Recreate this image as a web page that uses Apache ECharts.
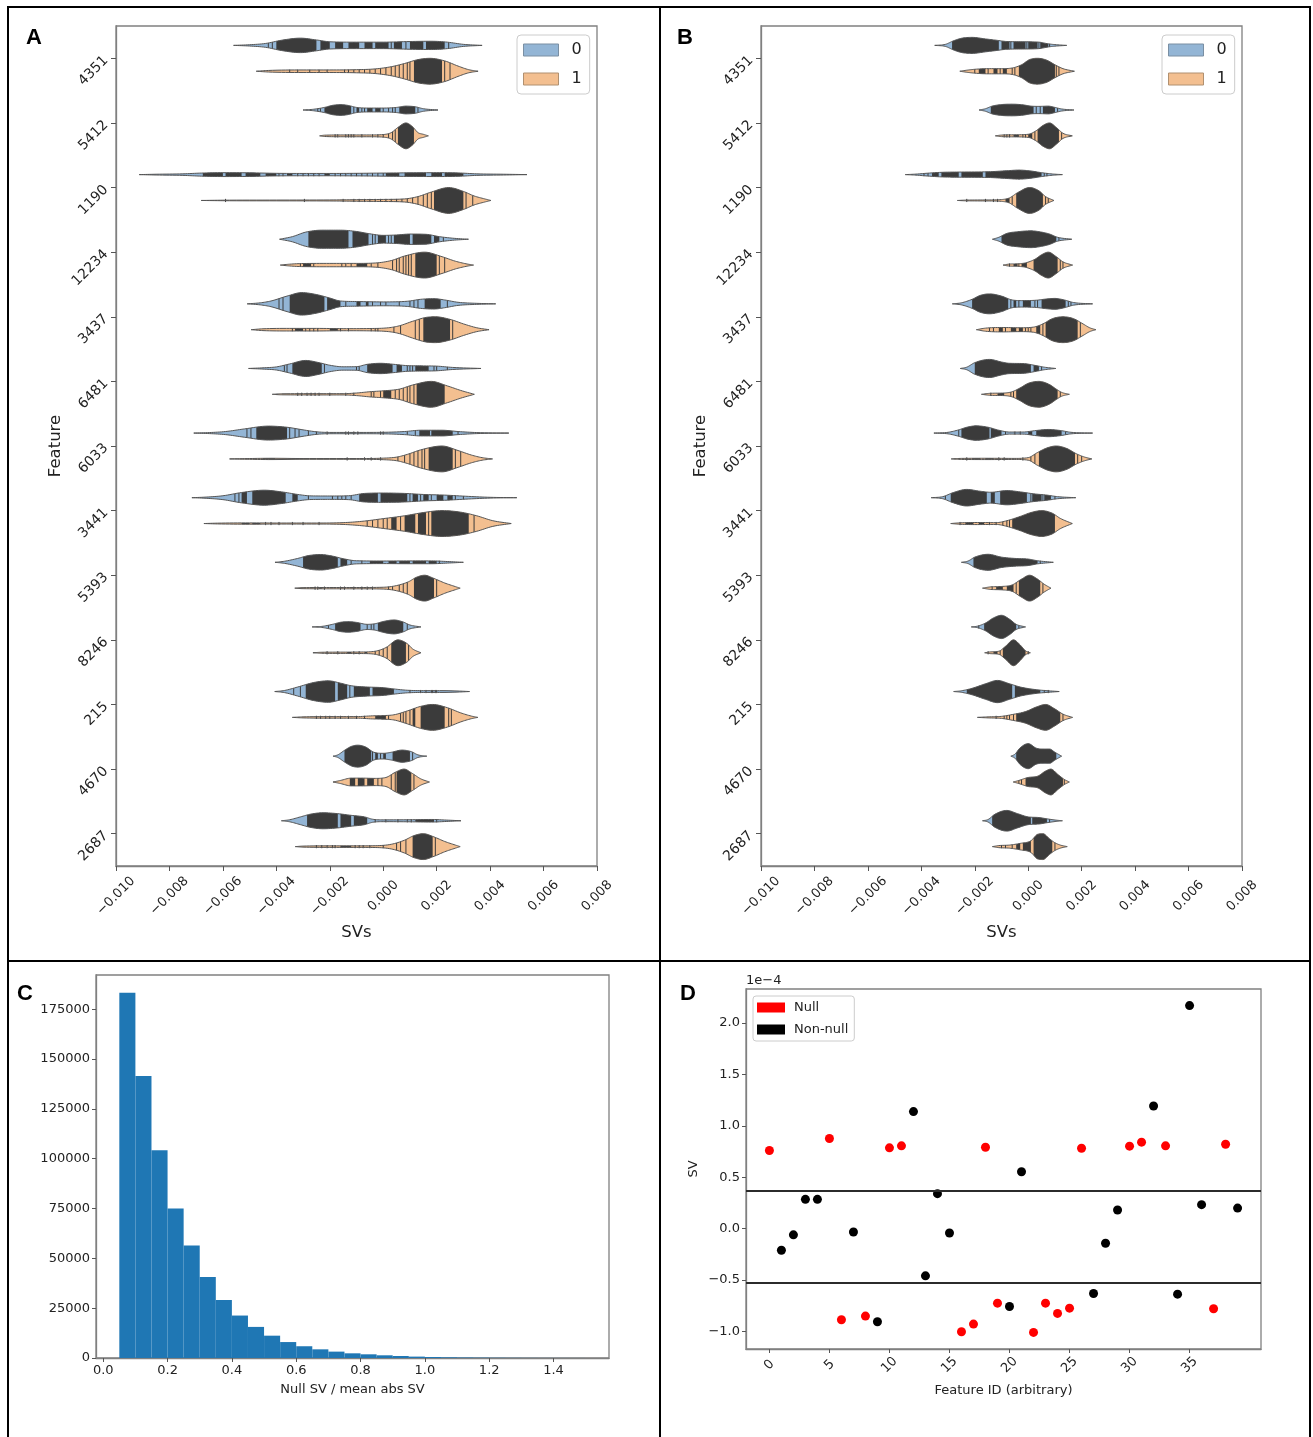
<!DOCTYPE html>
<html><head><meta charset="utf-8">
<script src="https://cdn.jsdelivr.net/npm/echarts@6/dist/echarts.min.js"></script>
<style>html,body{margin:0;padding:0;background:#fff}#c{width:1313px;height:1437px}</style>
</head><body><div id="c"></div>
<script>
// ---------- Panels A/B: split violins (SV values in units of 1e-3; widths relative to widest violin) ----------
const features = ['4351','5412','1190','12234','3437','6481','6033','3441','5393','8246','215','4670','2687'];
const xTicksAB = [-0.010,-0.008,-0.006,-0.004,-0.002,0.000,0.002,0.004,0.006,0.008];
const hueNames = ['0','1'];

const profA0 = [
 [[-5.6,0],[-5.0,0.05],[-4.4,0.15],[-3.8,0.4],[-3.1,0.56],[-2.5,0.42],[-2.0,0.28],[-1.0,0.25],[0,0.25],[1.0,0.3],[1.8,0.32],[2.4,0.25],[3.0,0.08],[3.7,0]],
 [[-3.0,0],[-2.6,0.06],[-2.2,0.2],[-1.9,0.36],[-1.6,0.42],[-1.3,0.35],[-1.0,0.2],[-0.5,0.15],[0,0.15],[0.5,0.2],[0.85,0.3],[1.2,0.25],[1.5,0.1],[2.05,0]],
 [[-9.13,0],[-8.5,0.03],[-7.5,0.06],[-6.8,0.12],[-6,0.15],[-5,0.14],[-4,0.1],[-3,0.09],[-2,0.09],[-1,0.1],[0,0.12],[1,0.14],[2,0.15],[2.8,0.13],[3.5,0.06],[4.5,0.03],[5.38,0]],
 [[-3.88,0],[-3.4,0.2],[-2.9,0.55],[-2.3,0.7],[-1.6,0.7],[-1.0,0.6],[-0.5,0.42],[0,0.3],[0.5,0.33],[1.0,0.4],[1.6,0.38],[2.1,0.2],[2.6,0.08],[3.19,0]],
 [[-5.09,0],[-4.6,0.08],[-4.2,0.22],[-3.6,0.6],[-3.05,0.87],[-2.5,0.72],[-2.0,0.45],[-1.6,0.22],[-1.0,0.18],[0,0.15],[0.9,0.2],[1.4,0.35],[1.9,0.4],[2.3,0.3],[2.8,0.12],[3.5,0.04],[4.21,0]],
 [[-5.04,0],[-4.5,0.05],[-4.0,0.12],[-3.5,0.35],[-2.9,0.62],[-2.4,0.45],[-2.0,0.25],[-1.5,0.13],[-1.0,0.14],[-0.6,0.32],[-0.1,0.4],[0.4,0.32],[0.9,0.22],[1.5,0.2],[2.0,0.18],[2.6,0.08],[3.66,0]],
 [[-7.09,0],[-6.5,0.04],[-5.9,0.12],[-5.2,0.32],[-4.3,0.54],[-3.6,0.45],[-3.0,0.25],[-2.5,0.1],[-2.0,0.05],[-1,0.05],[0,0.06],[0.8,0.12],[1.4,0.22],[2.2,0.22],[2.8,0.12],[3.5,0.04],[4.7,0]],
 [[-7.16,0],[-6.6,0.05],[-6.0,0.15],[-5.3,0.4],[-4.45,0.58],[-3.8,0.45],[-3.2,0.25],[-2.7,0.14],[-2.0,0.13],[-1.3,0.15],[-0.7,0.33],[0,0.36],[0.8,0.33],[1.5,0.25],[2.3,0.2],[3.2,0.1],[4,0.03],[5.0,0]],
 [[-4.05,0],[-3.7,0.08],[-3.2,0.3],[-2.8,0.52],[-2.35,0.6],[-1.9,0.48],[-1.5,0.28],[-1.0,0.12],[0,0.1],[1,0.11],[1.8,0.11],[2.4,0.06],[3.0,0]],
 [[-2.66,0],[-2.3,0.04],[-1.9,0.2],[-1.6,0.36],[-1.3,0.41],[-1.0,0.35],[-0.6,0.2],[-0.3,0.25],[0.0,0.42],[0.4,0.54],[0.75,0.38],[1.0,0.15],[1.41,0]],
 [[-4.06,0],[-3.7,0.08],[-3.2,0.35],[-2.6,0.7],[-2.05,0.83],[-1.6,0.65],[-1.2,0.45],[-0.6,0.35],[0.0,0.3],[0.4,0.2],[0.9,0.1],[1.5,0.07],[2.2,0.07],[2.8,0.04],[3.23,0]],
 [[-1.88,0],[-1.7,0.1],[-1.45,0.45],[-1.2,0.75],[-0.95,0.85],[-0.65,0.7],[-0.35,0.3],[0.0,0.22],[0.3,0.3],[0.7,0.47],[1.05,0.35],[1.3,0.1],[1.63,0]],
 [[-3.81,0],[-3.5,0.08],[-3.1,0.3],[-2.7,0.52],[-2.25,0.62],[-1.7,0.55],[-1.2,0.42],[-0.7,0.3],[-0.4,0.12],[0,0.07],[1,0.08],[1.8,0.1],[2.3,0.06],[2.91,0]]
];
const darkA0 = [
 [[-4.0,-2.5],[-2.35,-2.0],[-1.8,-1.5],[-1.3,-0.9],[-0.7,-0.4],[-0.3,0.2],[0.4,0.7],[1.0,1.5],[1.6,2.3]],
 [[-2.2,-1.2],[-1.0,-0.9],[-0.6,-0.4],[-0.3,-0.1],[0.6,1.2]],
 [[-6.75,-6.0],[-5.9,-5.3],[-5.15,-4.6],[-4.4,-4.0],[-3.6,-3.4],[-2.2,-2.0],[0.1,0.6],[0.8,1.6],[1.8,2.2],[2.3,3.0]],
 [[-2.8,-1.3],[-1.15,-0.55],[-0.2,0.1],[0.4,1.0],[1.1,1.8],[1.9,2.1]],
 [[-3.5,-2.2],[-2.1,-1.6],[-1.0,-0.85],[-0.65,-0.55],[1.55,2.15]],
 [[-3.4,-2.3],[-0.6,0.35],[0.5,0.7],[1.2,1.7]],
 [[-4.75,-3.6],[1.35,1.75],[1.8,2.6]],
 [[-5.3,-5.1],[-4.9,-3.65],[-3.4,-3.2],[-0.9,-0.2],[-0.1,0.9],[1.1,1.3],[1.5,1.7],[2.0,2.25],[2.4,2.6]],
 [[-3.0,-1.7],[-1.6,-1.35],[-0.5,0.0],[0.2,0.5],[0.6,1.0],[1.1,1.6],[1.7,2.0]],
 [[-1.8,-0.85],[-0.2,0.75]],
 [[-2.9,-1.8],[-1.7,-1.35],[-1.1,-0.5],[-0.4,0.4]],
 [[-1.45,-0.45],[-0.3,-0.2],[0.0,0.1],[0.35,1.0]],
 [[-2.85,-1.7],[-1.6,-1.2],[-1.1,-0.6],[1.2,1.9]]
];
const stickA0 = [
 [-4.3,-4.15,-2.2,-1.65,-1.1,0.3,0.85,2.45],
 [-2.45,-2.35,-1.1,-0.8,-0.7,0.0,0.2,0.35,0.45,1.3],
 [-3.9,-3.75,-3.2,-3.0,-2.8,-2.6,-2.4,-1.8,-1.6,-1.4,-1.2,-1.0,-0.8,-0.6,-0.4,-0.2,0.0],
 [-0.4,-0.3,0.2,0.3,2.25],
 [-3.9,-3.75,-1.4,-0.4,-0.1,0.1,0.6,1.0,1.15,1.3,2.4],
 [-3.7,-3.6,-2.2,-1.0,-0.9,0.9,1.0,1.1,1.9,2.0,2.4],
 [-5.1,-4.95,-3.5,-3.3,-3.15,-2.8,-2.5,-2.1,-1.4,-1.3,-1.1,-0.95,-0.1,0.0,0.9,1.2,2.8],
 [-5.55,-5.4,-2.8,-1.9,-1.7,-1.55,-1.4,-1.2,1.0,1.4,1.8,2.7,3.0],
 [-1.2,-0.8,2.1],
 [-2.05,-0.6,-0.45,-0.35,0.9],
 [-3.35,-3.1,-1.25,1.0,1.4,1.6,1.8,1.85,1.95,2.0],
 [-0.4,-0.1,1.1],
 [-0.3,0.1,0.55,0.9,1.05,2.0]
];

const profA1 = [
 [[-4.75,0],[-4.3,0.06],[-3,0.1],[-2,0.1],[-1,0.12],[-0.3,0.18],[0.3,0.35],[0.8,0.6],[1.3,0.9],[1.75,1.0],[2.3,0.8],[2.8,0.4],[3.2,0.12],[3.55,0]],
 [[-2.38,0],[-2.2,0.05],[-1.5,0.07],[-0.5,0.07],[0,0.1],[0.3,0.25],[0.55,0.65],[0.85,1.0],[1.1,0.7],[1.3,0.25],[1.5,0.12],[1.69,0]],
 [[-6.81,0],[-6,0.02],[-4,0.03],[-2,0.04],[-1,0.06],[0,0.08],[0.8,0.12],[1.3,0.3],[1.8,0.65],[2.45,1.0],[3.0,0.7],[3.4,0.35],[3.8,0.12],[4.03,0]],
 [[-3.85,0],[-3.5,0.07],[-3,0.12],[-2,0.13],[-1,0.13],[-0.3,0.16],[0.3,0.35],[0.8,0.7],[1.55,1.0],[2.2,0.65],[2.7,0.3],[3.1,0.1],[3.38,0]],
 [[-4.94,0],[-4.5,0.07],[-3.5,0.1],[-2.5,0.1],[-1.5,0.08],[-0.5,0.09],[0.2,0.15],[0.6,0.3],[1.1,0.65],[1.6,0.95],[1.95,1.0],[2.5,0.8],[3.0,0.45],[3.5,0.15],[3.96,0]],
 [[-4.15,0],[-3.8,0.04],[-2.5,0.05],[-1.5,0.05],[-1.0,0.1],[-0.5,0.2],[0,0.27],[0.6,0.4],[1.1,0.72],[1.8,1.0],[2.4,0.65],[2.9,0.3],[3.41,0]],
 [[-5.75,0],[-5,0.03],[-4.2,0.05],[-3,0.03],[-1,0.03],[0,0.06],[0.5,0.14],[0.9,0.35],[1.4,0.7],[2.2,1.0],[2.8,0.65],[3.3,0.3],[3.7,0.1],[4.09,0]],
 [[-6.71,0],[-6.2,0.03],[-5,0.05],[-4,0.04],[-2.5,0.04],[-1.5,0.07],[-0.8,0.17],[0,0.38],[0.8,0.6],[1.5,0.85],[2.2,1.0],[2.9,0.88],[3.5,0.6],[4.1,0.22],[4.79,0]],
 [[-3.31,0],[-3.0,0.04],[-2,0.05],[-1,0.05],[0,0.07],[0.5,0.2],[0.95,0.5],[1.25,0.85],[1.55,1.0],[1.9,0.75],[2.3,0.4],[2.7,0.12],[2.88,0]],
 [[-2.63,0],[-2.3,0.04],[-1.5,0.05],[-0.8,0.06],[-0.3,0.12],[0.1,0.4],[0.55,1.0],[0.9,0.7],[1.1,0.3],[1.41,0]],
 [[-3.4,0],[-3.0,0.04],[-2.0,0.06],[-1,0.06],[-0.4,0.12],[0.0,0.14],[0.4,0.2],[0.9,0.5],[1.4,0.85],[1.85,1.0],[2.4,0.75],[2.9,0.35],[3.3,0.1],[3.54,0]],
 [[-1.88,0],[-1.6,0.12],[-1.2,0.3],[-0.8,0.3],[-0.3,0.28],[0.1,0.35],[0.45,0.75],[0.78,1.0],[1.1,0.65],[1.4,0.25],[1.73,0]],
 [[-3.29,0],[-3.0,0.04],[-2.0,0.06],[-1,0.06],[-0.3,0.07],[0.3,0.18],[0.8,0.5],[1.15,0.85],[1.5,1.0],[1.9,0.75],[2.3,0.4],[2.7,0.12],[2.88,0]]
];
const darkA1 = [
 [[1.15,2.2]],
 [[0.55,1.15]],
 [[1.9,3.0]],
 [[-3.0,-2.7],[-1.0,-0.6],[1.2,2.0]],
 [[-3.3,-3.0],[-2.0,-1.7],[1.5,2.5]],
 [[0,0.3],[1.25,2.3]],
 [[-4.5,-4.05],[1.7,2.6]],
 [[-5.3,-5.0],[-4.9,-4.6],[0.3,0.5],[0.8,1.2],[1.3,1.6],[1.8,3.2]],
 [[-2.4,-2.3],[1.15,1.9]],
 [[-1.35,-1.2],[-0.7,-0.6],[0.3,0.85]],
 [[-0.3,0.1],[1.1,1.2],[1.4,2.3]],
 [[-1.25,-1.05],[-0.95,-0.7],[-0.6,-0.35],[0.5,1.05]],
 [[-1.6,-1.2],[1.1,1.85]]
];
const stickA1 = [
 [-3.5,-3.2,-2.75,-2.4,-2.1,-1.45,-1.3,-1.1,-0.9,-0.7,-0.5,-0.3,-0.1,0.1,0.3,0.45,0.6,0.75,0.9,1.0,2.3,2.5],
 [-1.8,-1.7,-1.4,-1.3,-1.2,-1.1,-0.8,-0.4,-0.2,0,0.2,0.35,0.45],
 [-5.9,-2.95,-1.5,-1.1,-0.9,-0.7,-0.5,-0.3,-0.1,0.1,0.3,0.5,0.7,0.9,1.1,1.3,1.5,1.65,1.8,3.1,3.35],
 [-3.1,-2.6,-1.55,-1.4,-1.2,-0.45,-0.2,0.35,0.5,0.6,0.75,0.85,0.95,1.05,2.1,2.3],
 [-3.4,-2.9,-2.75,-2.6,-2.45,-1.6,-1.3,-0.45,-0.3,-0.2,0.4,0.65,1.2,1.35,2.6],
 [-3.2,-3.05,-2.85,-2.7,-2.55,-2.4,-2.0,-1.4,-1.1,-0.45,-0.35,-0.1,0.45,0.6,0.75,0.9,1.0,1.15],
 [-1.35,-0.7,-0.45,-0.1,0.55,0.8,1.0,1.15,1.3,1.45,1.55,2.7,2.9],
 [-4.4,-4.2,-3.9,-3.4,-3.0,-2.4,-0.6,-0.4,-0.2,0.0,0.15,0.65,1.7,3.4],
 [-2.55,-2.45,-2.2,-1.6,-1.45,-1.1,-0.8,-0.6,-0.4,0.2,0.35,0.6,0.75,0.9,2.0],
 [-2.1,-1.7,-1.1,-0.9,-0.3,-0.15,0.0,0.15,0.95],
 [-2.5,-2.35,-2.15,-2.0,-1.8,-1.6,-1.3,-1.0,-0.7,0.2,0.65,0.75,0.85,1.0,2.45,2.55],
 [-0.2,-0.05,0.3,0.45,1.15],
 [-2.5,-2.3,-2.1,-1.9,-1.8,-1.05,-0.9,-0.75,-0.5,0.0,0.5,0.65,0.85,1.95]
];

const profB0 = [
 [[-3.5,0],[-3.1,0.08],[-2.8,0.35],[-2.5,0.55],[-2.1,0.62],[-1.6,0.5],[-1.2,0.4],[-0.8,0.3],[-0.2,0.28],[0.4,0.25],[0.75,0.12],[1.0,0.06],[1.44,0]],
 [[-1.84,0],[-1.6,0.1],[-1.35,0.3],[-1.0,0.42],[-0.6,0.45],[-0.2,0.4],[0.1,0.3],[0.4,0.28],[0.75,0.3],[1.0,0.2],[1.25,0.08],[1.71,0]],
 [[-4.6,0],[-4.2,0.04],[-3.7,0.12],[-3.2,0.18],[-2.5,0.2],[-1.5,0.22],[-0.8,0.3],[-0.35,0.35],[0.1,0.28],[0.5,0.15],[0.9,0.05],[1.28,0]],
 [[-1.34,0],[-1.1,0.15],[-0.8,0.45],[-0.4,0.58],[0.1,0.65],[0.5,0.55],[0.8,0.4],[1.1,0.15],[1.63,0]],
 [[-2.84,0],[-2.5,0.08],[-2.1,0.35],[-1.8,0.65],[-1.45,0.77],[-1.0,0.6],[-0.6,0.3],[-0.2,0.25],[0.3,0.28],[0.7,0.38],[1.0,0.42],[1.35,0.3],[1.7,0.1],[2.41,0]],
 [[-2.54,0],[-2.3,0.1],[-2.0,0.45],[-1.45,0.7],[-1.0,0.5],[-0.7,0.4],[-0.2,0.38],[0.3,0.22],[0.6,0.1],[1.03,0]],
 [[-3.53,0],[-3.0,0.06],[-2.6,0.25],[-2.3,0.45],[-1.95,0.56],[-1.5,0.45],[-1.1,0.22],[-0.7,0.08],[-0.2,0.08],[0.3,0.2],[0.75,0.28],[1.2,0.2],[1.6,0.06],[2.41,0]],
 [[-3.63,0],[-3.2,0.08],[-2.8,0.4],[-2.3,0.64],[-1.8,0.5],[-1.4,0.42],[-0.8,0.55],[-0.3,0.45],[0.2,0.3],[0.7,0.2],[1.1,0.08],[1.78,0]],
 [[-2.5,0],[-2.25,0.1],[-2.0,0.4],[-1.5,0.62],[-1.0,0.4],[-0.5,0.3],[0.0,0.25],[0.35,0.12],[0.94,0]],
 [[-2.13,0],[-1.9,0.06],[-1.6,0.3],[-1.3,0.7],[-1.0,0.9],[-0.7,0.6],[-0.45,0.2],[-0.1,0]],
 [[-2.79,0],[-2.5,0.06],[-2.1,0.25],[-1.6,0.6],[-1.15,0.86],[-0.7,0.6],[-0.3,0.35],[0.1,0.2],[0.5,0.1],[1.16,0]],
 [[-0.65,0],[-0.5,0.15],[-0.3,0.65],[0.0,0.97],[0.3,0.62],[0.55,0.55],[0.8,0.55],[1.0,0.3],[1.25,0]],
 [[-1.71,0],[-1.5,0.1],[-1.25,0.5],[-0.8,0.8],[-0.4,0.55],[0.0,0.3],[0.4,0.25],[0.7,0.15],[1.0,0.06],[1.28,0]]
];
const darkB0 = [
 [[-2.85,-1.1],[-1.0,-0.7],[-0.55,-0.1],[0.0,0.35],[0.45,0.75]],
 [[-1.4,0.2],[0.55,1.0]],
 [[-3.6,-3.35],[-3.25,-2.6],[-2.5,-1.7],[-1.6,0.5]],
 [[-1.0,1.05]],
 [[-2.1,-0.75],[-0.55,-0.45],[-0.2,0.1],[0.5,1.4]],
 [[-2.0,0.1],[0.2,0.4]],
 [[-2.5,-1.45],[-1.4,-1.0],[0.0,0.15],[0.3,1.25]],
 [[-2.9,-1.55],[-1.4,-1.25],[-1.05,-0.05],[0.15,0.5],[0.6,0.85]],
 [[-2.05,0.35]],
 [[-1.65,-0.45]],
 [[-2.3,-0.6],[-0.5,0.45]],
 [[-0.45,1.05]],
 [[-1.35,0.1],[0.15,0.7]]
];
const stickB0 = [
 [-0.65,-0.05,0.4,0.8],
 [0.3,0.45,1.1],
 [-3.9,-3.75,0.6,0.7],
 [1.15],
 [-0.65,-0.35,0.25,0.35,1.5,1.6],
 [0.5],
 [-2.6,-0.85,-0.5,-0.3,1.4],
 [-3.1,-1.6,0.1,0.55,1.0],
 [0.45],
 [-1.85,-0.35],
 [0.6,0.75],
 [],
 [0.8]
];

const profB1 = [
 [[-2.56,0],[-2.3,0.08],[-2.0,0.15],[-1.5,0.2],[-1.0,0.2],[-0.6,0.25],[-0.25,0.5],[0.05,0.9],[0.35,1.0],[0.7,0.85],[1.0,0.5],[1.3,0.2],[1.73,0]],
 [[-1.23,0],[-1.0,0.06],[-0.5,0.08],[0,0.12],[0.3,0.4],[0.55,0.8],[0.8,1.0],[1.05,0.65],[1.3,0.2],[1.65,0]],
 [[-2.65,0],[-2.3,0.03],[-1.5,0.04],[-1.0,0.07],[-0.7,0.2],[-0.4,0.6],[0.05,1.0],[0.4,0.75],[0.65,0.3],[0.96,0]],
 [[-0.94,0],[-0.7,0.08],[-0.4,0.1],[-0.1,0.17],[0.25,0.45],[0.5,0.8],[0.75,1.0],[1.05,0.65],[1.3,0.25],[1.66,0]],
 [[-1.94,0],[-1.6,0.12],[-1.0,0.17],[-0.3,0.15],[0.2,0.2],[0.55,0.45],[0.9,0.85],[1.3,1.0],[1.7,0.85],[2.05,0.45],[2.3,0.15],[2.53,0]],
 [[-1.75,0],[-1.4,0.08],[-0.9,0.1],[-0.6,0.2],[-0.3,0.5],[0.0,0.85],[0.4,1.0],[0.8,0.75],[1.05,0.4],[1.25,0.15],[1.54,0]],
 [[-2.88,0],[-2.5,0.04],[-1.5,0.05],[-0.5,0.04],[0.0,0.1],[0.35,0.5],[0.7,0.85],[1.05,1.0],[1.45,0.8],[1.8,0.4],[2.1,0.15],[2.38,0]],
 [[-2.9,0],[-2.6,0.05],[-2.0,0.08],[-1.2,0.07],[-0.8,0.22],[-0.3,0.55],[0.1,0.85],[0.5,1.0],[0.9,0.8],[1.2,0.4],[1.65,0]],
 [[-1.71,0],[-1.4,0.1],[-1.0,0.13],[-0.6,0.25],[-0.25,0.7],[0.05,1.0],[0.35,0.7],[0.6,0.3],[0.85,0]],
 [[-1.63,0],[-1.4,0.07],[-1.1,0.12],[-0.85,0.5],[-0.55,1.0],[-0.3,0.6],[-0.1,0.15],[0.08,0]],
 [[-1.9,0],[-1.5,0.04],[-1.0,0.08],[-0.6,0.22],[-0.1,0.45],[0.3,0.8],[0.65,1.0],[1.0,0.65],[1.3,0.25],[1.66,0]],
 [[-0.56,0],[-0.35,0.12],[0.0,0.35],[0.35,0.45],[0.65,0.85],[0.85,1.0],[1.1,0.6],[1.35,0.2],[1.54,0]],
 [[-1.34,0],[-1.1,0.08],[-0.7,0.12],[-0.3,0.25],[0.1,0.45],[0.35,0.95],[0.55,1.0],[0.8,0.6],[1.0,0.3],[1.2,0.12],[1.46,0]]
];
const darkB1 = [
 [[-1.85,-1.6],[-1.3,-1.15],[-0.95,-0.8],[-0.35,1.0]],
 [[-0.55,-0.35],[0.0,0.15],[0.35,1.15]],
 [[-0.85,-0.7],[-0.45,0.55]],
 [[-0.55,-0.4],[-0.25,-0.05],[0.2,1.1]],
 [[-1.1,-0.95],[-0.65,-0.45],[-0.35,-0.2],[0.3,0.45],[0.65,1.85]],
 [[-1.15,-0.9],[-0.45,1.1]],
 [[-2.1,-1.8],[-1.6,-1.3],[0.4,1.75]],
 [[-2.35,-2.05],[-1.85,-1.65],[-0.6,1.0]],
 [[-1.2,-0.95],[-0.8,-0.55],[-0.35,0.45]],
 [[-1.3,-1.15],[-0.95,-0.1]],
 [[-0.45,1.2]],
 [[-0.1,1.3]],
 [[-0.45,-0.3],[-0.2,0.1],[0.2,0.9]]
];
const stickB1 = [
 [-2.0,-1.5,-1.05,-0.6,-0.5,1.05,1.15],
 [-0.9,-0.8,-0.7,-0.2,-0.1,0.25,1.25],
 [-2.3,-1.6,-1.3,-1.15,-0.6,0.65,0.75],
 [-0.7,-0.35,1.2,1.3],
 [-1.45,-1.3,-0.85,-0.1,0.0,0.1,0.55,1.95],
 [-1.4,-0.65,-0.55,1.2],
 [-2.3,-1.1,-0.9,-0.2,0.1,0.25,1.85,2.0],
 [-2.55,-1.45,-1.2,-0.95,-0.8,-0.7],
 [-1.35,-0.45,0.55],
 [-1.5,-1.05,0.0],
 [-1.2,-0.9,-0.8,-0.7,-0.55,1.3],
 [-0.35,-0.25,1.35],
 [-1.0,-0.85,-0.6,-0.35,1.0]
];

// ---------- Panel C: histogram ----------
const cBinStarts = [0.05,0.10,0.15,0.20,0.25,0.30,0.35,0.40,0.45,0.50,0.55,0.60,0.65,0.70,0.75,0.80,0.85,0.90,0.95,1.00,1.05,1.10,1.15,1.20,1.25,1.30,1.35,1.40,1.45];
const cBinWidth = 0.05;
const cCounts = [183300,141500,104200,75000,56400,40700,29100,21300,15600,11200,8000,5900,4350,3200,2350,1850,1350,1000,700,500,350,250,180,130,90,60,40,30,20];
const cXTicks = [0.0,0.2,0.4,0.6,0.8,1.0,1.2,1.4];
const cYTicks = [0,25000,50000,75000,100000,125000,150000,175000];

// ---------- Panel D: scatter (SV in units of 1e-4) ----------
const dIds = [0,1,2,3,4,5,6,7,8,9,10,11,12,13,14,15,16,17,18,19,20,21,22,23,24,25,26,27,28,29,30,31,32,33,34,35,36,37,38,39];
const dValues = [0.76,-0.21,-0.06,0.285,0.285,0.876,-0.886,-0.032,-0.85,-0.905,0.786,0.805,1.138,-0.459,0.34,-0.042,-1.002,-0.928,0.792,-0.724,-0.757,0.553,-1.009,-0.724,-0.824,-0.773,0.782,-0.63,-0.142,0.181,0.802,0.841,1.193,0.805,-0.637,2.169,0.233,-0.779,0.821,0.2];
const dIsNull = [1,0,0,0,0,1,1,0,1,0,1,1,0,0,0,0,1,1,1,1,0,0,1,1,1,1,1,0,0,0,1,1,0,1,0,0,0,1,1,0];
const dThresholds = [0.369,-0.533];
const dXTicks = [0,5,10,15,20,25,30,35];
const dYTicks = [-1.0,-0.5,0.0,0.5,1.0,1.5,2.0];

// ---------- styling ----------
const BLUE = '#93b5d5', ORANGE = '#f3bf90', DARK = '#3b3b3b', EDGE = '#555555';
const SPINE = '#808080', TICK = '#555555', TXT = '#222222', FONT = 'DejaVu Sans';
const minus = s => s.replace('-', '\u2212');

// smooth drawing of a read profile (monotone cubic Hermite, no overshoot) — rendering only
function smoothProfile(p) {
  const n = p.length, d = [], t = [];
  for (let i = 0; i < n - 1; i++) d.push((p[i+1][1] - p[i][1]) / (p[i+1][0] - p[i][0]));
  for (let i = 0; i < n; i++) {
    if (i === 0) t.push(d[0]);
    else if (i === n - 1) t.push(d[n-2]);
    else if (d[i-1] * d[i] <= 0) t.push(0);
    else t.push((d[i-1] + d[i]) / 2);
  }
  for (let i = 0; i < n - 1; i++) {
    if (d[i] === 0) { t[i] = 0; t[i+1] = 0; continue; }
    const a = t[i] / d[i], b = t[i+1] / d[i], s = a * a + b * b;
    if (s > 9) { const tau = 3 / Math.sqrt(s); t[i] = tau * a * d[i]; t[i+1] = tau * b * d[i]; }
  }
  const out = [];
  const N = 8;
  for (let i = 0; i < n - 1; i++) {
    const x0 = p[i][0], x1 = p[i+1][0], h = x1 - x0;
    for (let j = 0; j < N; j++) {
      const s = j / N, s2 = s * s, s3 = s2 * s;
      const y = (2*s3 - 3*s2 + 1) * p[i][1] + (s3 - 2*s2 + s) * h * t[i] + (-2*s3 + 3*s2) * p[i+1][1] + (s3 - s2) * h * t[i+1];
      out.push([x0 + s * h, Math.max(0, y)]);
    }
  }
  out.push(p[n-1].slice());
  return out;
}

function hAt(p, m) {
  if (m <= p[0][0]) return p[0][1];
  for (let i = 1; i < p.length; i++) {
    if (m <= p[i][0]) {
      const t = (m - p[i-1][0]) / (p[i][0] - p[i-1][0]);
      return p[i-1][1] + t * (p[i][1] - p[i-1][1]);
    }
  }
  return p[p.length-1][1];
}

function makeViolin(prof, dark, sticks, side, fill) {
  const smooth = prof.map(smoothProfile);
  return function (params, api) {
    const i = api.value(1);
    const p = smooth[i];
    const c = api.coord([0, i]);
    const band = api.size([0, 1])[1];
    const k = 0.2 * band;
    const yc = c[1] + side * k;
    const X = m => api.coord([m * 1e-3, i])[0];
    const shape = pts => {
      const up = pts.map(q => [X(q[0]), yc - q[1] * k]);
      const lo = pts.slice().reverse().map(q => [X(q[0]), yc + q[1] * k]);
      return up.concat(lo);
    };
    const children = [];
    children.push({ type: 'polygon', shape: { points: shape(p) }, style: { fill: fill } });
    dark[i].forEach(([a, b]) => {
      const pts = [[a, hAt(p, a)]];
      p.forEach(q => { if (q[0] > a && q[0] < b) pts.push(q); });
      pts.push([b, hAt(p, b)]);
      children.push({ type: 'polygon', shape: { points: shape(pts) }, style: { fill: DARK } });
    });
    sticks[i].forEach(m => {
      const h = Math.max(hAt(p, m) * k, 1.6);
      const x = X(m);
      children.push({ type: 'line', shape: { x1: x, y1: yc - h, x2: x, y2: yc + h }, style: { stroke: DARK, lineWidth: 1 } });
    });
    children.push({ type: 'polygon', shape: { points: shape(p) }, style: { fill: 'none', stroke: EDGE, lineWidth: 1 } });
    return { type: 'group', children: children };
  };
}

const grids = [
  { left: 116, top: 26, width: 481, height: 840 },
  { left: 761, top: 26, width: 481, height: 840 },
  { left: 96, top: 975, width: 513, height: 383 },
  { left: 746, top: 989, width: 515, height: 360 }
].map(g => Object.assign({ show: true, borderColor: SPINE, borderWidth: 1.3, backgroundColor: 'transparent' }, g));

const axisLineStyle = { show: true, onZero: false, lineStyle: { color: SPINE, width: 1.3 } };

function abX(gi) {
  return {
    gridIndex: gi, type: 'value', min: -0.010, max: 0.008,
    axisLine: axisLineStyle,
    axisTick: { show: true, customValues: xTicksAB, length: 5, lineStyle: { color: TICK } },
    axisLabel: { customValues: xTicksAB, rotate: 45, align: 'center', verticalAlign: 'middle', margin: 30,
      showMinLabel: true, showMaxLabel: true,
      formatter: v => minus(Number(v).toFixed(3)), fontSize: 13, color: TXT, fontFamily: FONT },
    splitLine: { show: false },
    name: 'SVs', nameLocation: 'middle', nameGap: 56,
    nameTextStyle: { fontSize: 16.5, color: TXT, fontFamily: FONT }
  };
}
function abY(gi) {
  return {
    gridIndex: gi, type: 'category', data: features, inverse: true,
    axisLine: axisLineStyle,
    axisTick: { show: true, alignWithLabel: true, interval: 0, length: 5, lineStyle: { color: TICK } },
    axisLabel: { interval: 0, rotate: 45, margin: 10, fontSize: 14, color: TXT, fontFamily: FONT },
    splitLine: { show: false },
    name: 'Feature', nameLocation: 'middle', nameGap: 52, nameRotate: 90,
    nameTextStyle: { fontSize: 16.5, color: TXT, fontFamily: FONT }
  };
}

const xAxis = [abX(0), abX(1),
  { gridIndex: 2, type: 'value', min: -0.0225, max: 1.5725,
    axisLine: axisLineStyle,
    axisTick: { show: true, customValues: cXTicks, length: 4, lineStyle: { color: TICK } },
    axisLabel: { customValues: cXTicks, showMinLabel: true, showMaxLabel: true, formatter: v => Number(v).toFixed(1), margin: 6, fontSize: 13, color: TXT, fontFamily: FONT },
    splitLine: { show: false },
    name: 'Null SV / mean abs SV', nameLocation: 'middle', nameGap: 25, nameTextStyle: { fontSize: 13, color: TXT, fontFamily: FONT } },
  { gridIndex: 3, type: 'value', min: -1.95, max: 40.95,
    axisLine: axisLineStyle,
    axisTick: { show: true, customValues: dXTicks, length: 4, lineStyle: { color: TICK } },
    axisLabel: { customValues: dXTicks, showMinLabel: true, showMaxLabel: true, rotate: 45, align: 'center', verticalAlign: 'middle', margin: 16, formatter: v => String(v), fontSize: 13, color: TXT, fontFamily: FONT },
    splitLine: { show: false },
    name: 'Feature ID (arbitrary)', nameLocation: 'middle', nameGap: 35, nameTextStyle: { fontSize: 13, color: TXT, fontFamily: FONT } }
];
const yAxis = [abY(0), abY(1),
  { gridIndex: 2, type: 'value', min: 0, max: 192150,
    axisLine: axisLineStyle,
    axisTick: { show: true, customValues: cYTicks, length: 4, lineStyle: { color: TICK } },
    axisLabel: { customValues: cYTicks, showMinLabel: true, showMaxLabel: true, formatter: v => String(v), margin: 6, fontSize: 13, color: TXT, fontFamily: FONT },
    splitLine: { show: false } },
  { gridIndex: 3, type: 'value', min: -1.17, max: 2.33,
    axisLine: axisLineStyle,
    axisTick: { show: true, customValues: dYTicks, length: 4, lineStyle: { color: TICK } },
    axisLabel: { customValues: dYTicks, showMinLabel: true, showMaxLabel: true, formatter: v => minus(Number(v).toFixed(1)), margin: 6, fontSize: 13, color: TXT, fontFamily: FONT },
    splitLine: { show: false },
    name: 'SV', nameLocation: 'middle', nameGap: 46, nameRotate: 90, nameTextStyle: { fontSize: 13, color: TXT, fontFamily: FONT } }
];

const violinData = features.map((f, i) => [0, i]);
function violinSeries(name, gi, prof, dark, sticks, side, fill) {
  return { type: 'custom', name: name, xAxisIndex: gi, yAxisIndex: gi, coordinateSystem: 'cartesian2d',
    renderItem: makeViolin(prof, dark, sticks, side, fill), data: violinData, encode: { x: 0, y: 1 },
    itemStyle: { color: fill }, silent: true, clip: false };
}

const series = [
  violinSeries(hueNames[0], 0, profA0, darkA0, stickA0, -1, BLUE),
  violinSeries(hueNames[1], 0, profA1, darkA1, stickA1, 1, ORANGE),
  violinSeries(hueNames[0], 1, profB0, darkB0, stickB0, -1, BLUE),
  violinSeries(hueNames[1], 1, profB1, darkB1, stickB1, 1, ORANGE),
  { type: 'custom', name: 'hist', xAxisIndex: 2, yAxisIndex: 2, silent: true,
    data: cCounts.map((c, i) => [cBinStarts[i], cBinStarts[i] + cBinWidth, c]),
    encode: { x: [0, 1], y: 2 },
    renderItem: (params, api) => {
      const p0 = api.coord([api.value(0), api.value(2)]);
      const p1 = api.coord([api.value(1), 0]);
      return { type: 'rect', shape: { x: p0[0], y: p0[1], width: p1[0] - p0[0], height: p1[1] - p0[1] },
        style: { fill: '#1f77b4' } };
    } },
  { type: 'scatter', name: 'Null', xAxisIndex: 3, yAxisIndex: 3, symbolSize: 9, silent: true,
    itemStyle: { color: '#ff0000', opacity: 1 },
    data: dIds.filter((d, i) => dIsNull[i]).map(d => [d, dValues[d]]) },
  { type: 'scatter', name: 'Non-null', xAxisIndex: 3, yAxisIndex: 3, symbolSize: 9, silent: true,
    itemStyle: { color: '#000000', opacity: 1 },
    data: dIds.filter((d, i) => !dIsNull[i]).map(d => [d, dValues[d]]),
    markLine: { silent: true, symbol: 'none', label: { show: false },
      lineStyle: { color: '#2b2b2b', width: 2, type: 'solid' },
      data: dThresholds.map(v => ({ yAxis: v })) } }
];

function abLegend(left) {
  return { left: left, top: 35, orient: 'vertical', selectedMode: false,
    data: [{ name: hueNames[0], icon: 'rect', itemStyle: { color: BLUE, borderColor: '#7a8fa3', borderWidth: 1 } },
           { name: hueNames[1], icon: 'rect', itemStyle: { color: ORANGE, borderColor: '#b09070', borderWidth: 1 } }],
    itemWidth: 35, itemHeight: 12, itemGap: 13, padding: [7, 8, 7, 6],
    borderColor: '#cccccc', borderWidth: 1, borderRadius: 4, backgroundColor: 'rgba(255,255,255,0.8)',
    textStyle: { fontSize: 16, color: TXT, fontFamily: FONT, padding: [0, 0, 0, 8] } };
}

const legend = [abLegend(517), abLegend(1162),
  { left: 753, top: 996, orient: 'vertical', selectedMode: false,
    data: [{ name: 'Null', icon: 'rect', itemStyle: { color: '#ff0000', opacity: 1 } }, { name: 'Non-null', icon: 'rect', itemStyle: { color: '#000000', opacity: 1 } }],
    itemWidth: 28, itemHeight: 10, itemGap: 9, padding: [5, 6, 5, 4],
    borderColor: '#cccccc', borderWidth: 1, borderRadius: 3, backgroundColor: 'rgba(255,255,255,0.8)',
    textStyle: { fontSize: 13, color: TXT, fontFamily: FONT, padding: [0, 0, 0, 4] } }
];

const letterStyle = { fontSize: 22, fontWeight: 'bold', fontFamily: 'Liberation Sans', fill: '#000' };
const graphic = [
  { type: 'line', shape: { x1: 8, y1: 7, x2: 1310, y2: 7 }, style: { stroke: '#000', lineWidth: 2 } },
  { type: 'line', shape: { x1: 8, y1: 961, x2: 1310, y2: 961 }, style: { stroke: '#000', lineWidth: 2 } },
  { type: 'line', shape: { x1: 8, y1: 6, x2: 8, y2: 1437 }, style: { stroke: '#000', lineWidth: 2 } },
  { type: 'line', shape: { x1: 660, y1: 6, x2: 660, y2: 1437 }, style: { stroke: '#000', lineWidth: 2 } },
  { type: 'line', shape: { x1: 1310, y1: 6, x2: 1310, y2: 1437 }, style: { stroke: '#000', lineWidth: 2 } },
  { type: 'text', left: 26, top: 27, style: Object.assign({ text: 'A' }, letterStyle) },
  { type: 'text', left: 677, top: 27, style: Object.assign({ text: 'B' }, letterStyle) },
  { type: 'text', left: 17, top: 983, style: Object.assign({ text: 'C' }, letterStyle) },
  { type: 'text', left: 680, top: 983, style: Object.assign({ text: 'D' }, letterStyle) },
  { type: 'text', left: 746, top: 974, style: { text: '1e\u22124', fontSize: 13, fontFamily: FONT, fill: TXT } }
];

const chart = echarts.init(document.getElementById('c'), null, { renderer: 'canvas' });
chart.setOption({
  animation: false,
  backgroundColor: '#ffffff',
  textStyle: { fontFamily: FONT },
  grid: grids, xAxis: xAxis, yAxis: yAxis, series: series, legend: legend, graphic: graphic
});
</script></body></html>
